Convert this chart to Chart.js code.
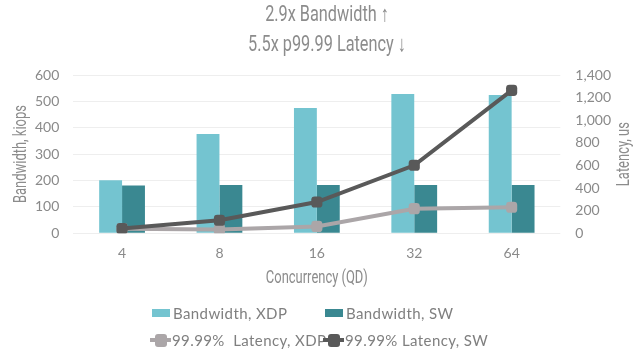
<!DOCTYPE html>
<html>
<head>
<meta charset="utf-8">
<script src="https://cdn.jsdelivr.net/npm/chart.js@4/dist/chart.umd.min.js"></script>
<style>
  html, body { margin: 0; padding: 0; background: #fff; }
  #wrap { position: relative; width: 644px; height: 352px; }
  #legend { position: absolute; left: 0; top: 0; width: 644px; height: 352px; font-family: Lato, "Open Sans", sans-serif; font-size: 15px; letter-spacing: 0.4px; color: #7f7f7f; pointer-events: none; }
  .item { position: absolute; display: flex; align-items: center; height: 20px; white-space: pre; }
  .box { width: 18px; height: 8px; margin-right: 3px; }
  .lineicon { position: relative; width: 21px; height: 13px; margin-right: 1px; }
  .lineicon .seg { position: absolute; left: 0; right: 0; top: 4.5px; height: 4px; }
  .lineicon .mk { position: absolute; left: 5px; top: 0; width: 12px; height: 13px; border-radius: 3px; }
</style>
</head>
<body>
<div id="wrap">
  <canvas id="c" width="644" height="352"></canvas>
  <div id="legend"></div>
</div>
<script>
// Queue depth categories
const categories = ['4', '8', '16', '32', '64'];
// Bandwidth in kiops
const bandwidthXDP = [201, 376, 475, 528, 524];
const bandwidthSW = [181, 183, 183, 183, 183];
// p99.99 latency in microseconds
const latencyXDP = [40, 33, 60, 217, 230];
const latencySW = [42, 115, 276, 601, 1264];

const titleLines = ['2.9x Bandwidth \u2191', '5.5x p99.99 Latency \u2193'];
const xTitle = 'Concurrency (QD)';
const yLeftTitle = 'Bandwidth, kiops';
const yRightTitle = 'Latency, us';

const body = "Lato, 'Open Sans', sans-serif";
const gray = '#8a8a8a';

// Narrow display lettering for the headings: Roboto squeezed horizontally
function condensed(ctx, text, x, y, size, rot) {
  ctx.save();
  ctx.translate(x, y);
  ctx.rotate(rot || 0);
  ctx.scale(0.74, 1);
  ctx.font = '400 ' + size + 'px Roboto';
  ctx.fillStyle = '#8c8c8c';
  ctx.textAlign = 'center';
  ctx.textBaseline = 'middle';
  ctx.fillText(text, 0, 0);
  ctx.restore();
}

const headings = {
  id: 'headings',
  afterDraw(chart) {
    const ctx = chart.ctx;
    const a = chart.chartArea;
    const cx = chart.width / 2 + 5;
    condensed(ctx, titleLines[0], cx, 15, 22);
    condensed(ctx, titleLines[1], cx, 45, 22);
    condensed(ctx, xTitle, (a.left + a.right) / 2, a.bottom + 45, 17.5);
    const cy = (a.top + a.bottom) / 2;
    condensed(ctx, yLeftTitle, 22, cy, 17.5, -Math.PI / 2);
    condensed(ctx, yRightTitle, 625, cy, 17.5, -Math.PI / 2);
  }
};

const chart = new Chart(document.getElementById('c'), {
  data: {
    labels: categories,
    datasets: [
      {
        type: 'line', label: '99.99% Latency, SW', data: latencySW, yAxisID: 'y1', order: 0,
        borderColor: '#595959', backgroundColor: '#595959', borderWidth: 4,
        pointStyle: 'rectRounded', pointRadius: 6.5, pointHoverRadius: 6.5, pointBorderWidth: 0, tension: 0
      },
      {
        type: 'line', label: '99.99%  Latency, XDP', data: latencyXDP, yAxisID: 'y1', order: 1,
        borderColor: '#aba6a8', backgroundColor: '#aba6a8', borderWidth: 4,
        pointStyle: 'rectRounded', pointRadius: 6.5, pointHoverRadius: 6.5, pointBorderWidth: 0, tension: 0
      },
      {
        type: 'bar', label: 'Bandwidth, XDP', data: bandwidthXDP, yAxisID: 'y', order: 2,
        backgroundColor: '#74c4d0', barPercentage: 1, categoryPercentage: 0.47
      },
      {
        type: 'bar', label: 'Bandwidth, SW', data: bandwidthSW, yAxisID: 'y', order: 3,
        backgroundColor: '#3a8891', barPercentage: 1, categoryPercentage: 0.47
      }
    ]
  },
  options: {
    responsive: false,
    animation: false,
    layout: { padding: { left: 21, right: 18, top: 75, bottom: 78 } },
    plugins: {
      legend: { display: false },
      tooltip: { enabled: false }
    },
    scales: {
      x: {
        grid: { display: false, drawTicks: false },
        border: { display: false },
        ticks: { color: gray, font: { family: body, size: 14 }, padding: 12 }
      },
      y: {
        position: 'left', min: 0, max: 600,
        ticks: { stepSize: 100, color: gray, font: { family: body, size: 14 }, padding: 14 },
        grid: { color: '#eeeeee', drawTicks: false },
        border: { display: false }
      },
      y1: {
        position: 'right', min: 0, max: 1400,
        ticks: { stepSize: 200, color: gray, font: { family: body, size: 14 }, padding: 15,
          callback: v => v.toLocaleString('en-US') },
        grid: { display: false, drawTicks: false },
        border: { display: false }
      }
    }
  },
  plugins: [headings]
});

// Legend built from the chart's datasets
const legendPlaces = [
  { ds: 2, left: 152, top: 303 },
  { ds: 3, left: 325, top: 303 },
  { ds: 1, left: 150, top: 330 },
  { ds: 0, left: 323, top: 330 }
];
const legendEl = document.getElementById('legend');
legendPlaces.forEach(p => {
  const ds = chart.data.datasets[p.ds];
  const item = document.createElement('div');
  item.className = 'item';
  item.style.left = p.left + 'px';
  item.style.top = p.top + 'px';
  if (ds.type === 'bar') {
    const b = document.createElement('div');
    b.className = 'box';
    b.style.background = ds.backgroundColor;
    item.appendChild(b);
  } else {
    const ic = document.createElement('div');
    ic.className = 'lineicon';
    const seg = document.createElement('div');
    seg.className = 'seg';
    seg.style.background = ds.borderColor;
    const mk = document.createElement('div');
    mk.className = 'mk';
    mk.style.background = ds.borderColor;
    ic.appendChild(seg);
    ic.appendChild(mk);
    item.appendChild(ic);
  }
  const t = document.createElement('span');
  t.textContent = ds.label;
  item.appendChild(t);
  legendEl.appendChild(item);
});
</script>
</body>
</html>
